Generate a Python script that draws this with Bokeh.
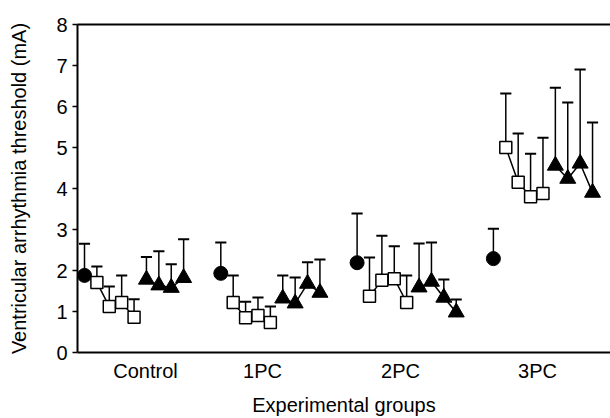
from bokeh.plotting import figure
from bokeh.models import Range1d, FixedTicker, CustomJSTickFormatter, LinearAxis
from bokeh.embed import file_html
from bokeh.resources import INLINE

# ---- data ----
groups = ["Control", "1PC", "2PC", "3PC"]
group_label_pos = [4.92, 14.37, 25.5, 36.56]

circle_mean = [1.88, 1.93, 2.19, 2.29]
circle_sd = [0.77, 0.75, 1.20, 0.73]

square_mean = [
    [1.71, 1.12, 1.22, 0.86],
    [1.22, 0.85, 0.90, 0.73],
    [1.37, 1.76, 1.80, 1.22],
    [5.00, 4.15, 3.80, 3.88],
]
square_sd = [
    [0.39, 0.49, 0.66, 0.44],
    [0.66, 0.39, 0.44, 0.39],
    [0.95, 1.09, 0.79, 0.66],
    [1.32, 1.19, 1.05, 1.36],
]

triangle_mean = [
    [1.78, 1.64, 1.58, 1.82],
    [1.32, 1.20, 1.68, 1.46],
    [1.59, 1.73, 1.34, 0.98],
    [4.56, 4.24, 4.61, 3.90],
]
triangle_sd = [
    [0.55, 0.83, 0.57, 0.94],
    [0.56, 0.63, 0.52, 0.81],
    [1.07, 0.95, 0.44, 0.31],
    [1.90, 1.86, 2.29, 1.71],
]

y_ticks = [0, 1, 2, 3, 4, 5, 6, 7, 8]

# ---- layout positions ----
GROUP_STEP = 11
cx = [g * GROUP_STEP for g in range(len(groups))]
sx = [[g * GROUP_STEP + 1 + i for i in range(4)] for g in range(len(groups))]
tx = [[g * GROUP_STEP + 5 + i for i in range(4)] for g in range(len(groups))]

FONT = "Liberation Sans"
FS = "20px"

p = figure(width=610, height=418,
           x_range=Range1d(-0.565, 42.45), y_range=Range1d(0, 8),
           output_backend="svg", toolbar_location=None,
           min_border_left=77, min_border_right=0,
           min_border_top=24, min_border_bottom=66)
p.outline_line_color = None
p.grid.visible = False
p.background_fill_color = "white"

# x axis
xa = p.xaxis[0]
xa.ticker = FixedTicker(ticks=group_label_pos)
xa.formatter = CustomJSTickFormatter(args=dict(labels=groups), code="return labels[index];")
xa.major_tick_out = 0
xa.major_tick_in = 0
xa.minor_tick_out = 0
xa.minor_tick_in = 0
xa.axis_line_width = 2
xa.major_label_standoff = 7
xa.major_label_text_font = FONT
xa.major_label_text_font_size = FS
xa.major_label_text_color = "black"
xa.axis_label = "Experimental groups"
xa.axis_label_text_font = FONT
xa.axis_label_text_font_size = FS
xa.axis_label_text_font_style = "normal"
xa.axis_label_text_color = "black"
xa.axis_label_standoff = 9

# y axis
ya = p.yaxis[0]
ya.ticker = FixedTicker(ticks=y_ticks)
ya.major_tick_out = 5
ya.major_tick_in = 0
ya.major_tick_line_width = 1.5
ya.minor_tick_out = 0
ya.minor_tick_in = 0
ya.axis_line_width = 2
ya.major_label_standoff = 5
ya.major_label_text_font = FONT
ya.major_label_text_font_size = FS
ya.major_label_text_color = "black"
ya.axis_label = "Ventricular arrhythmia threshold (mA)"
ya.axis_label_text_font = FONT
ya.axis_label_text_font_size = FS
ya.axis_label_text_font_style = "normal"
ya.axis_label_text_color = "black"
ya.axis_label_standoff = 23

# top border line
top = LinearAxis(ticker=FixedTicker(ticks=[]), axis_line_width=2,
                 major_tick_out=0, major_tick_in=0, minor_tick_out=0, minor_tick_in=0,
                 major_label_text_font_size="0px")
p.add_layout(top, "above")

# ---- error bars ----
xs_all, y0_all, y1_all = [], [], []
for g in range(len(groups)):
    xs_all.append(cx[g]); y0_all.append(circle_mean[g]); y1_all.append(circle_mean[g] + circle_sd[g])
    for i in range(4):
        xs_all.append(sx[g][i]); y0_all.append(square_mean[g][i]); y1_all.append(square_mean[g][i] + square_sd[g][i])
        xs_all.append(tx[g][i]); y0_all.append(triangle_mean[g][i]); y1_all.append(triangle_mean[g][i] + triangle_sd[g][i])

CAP = 0.45
p.segment(x0=xs_all, y0=y0_all, x1=xs_all, y1=y1_all, line_color="black", line_width=1.5)
p.segment(x0=[x - CAP for x in xs_all], y0=y1_all, x1=[x + CAP for x in xs_all], y1=y1_all,
          line_color="black", line_width=2)

# ---- connecting lines ----
p.multi_line(xs=sx, ys=square_mean, line_color="black", line_width=1.5)
p.multi_line(xs=tx, ys=triangle_mean, line_color="black", line_width=1.5)

# ---- markers ----
p.scatter(x=cx, y=circle_mean, marker="circle", size=14,
          fill_color="black", line_color="black")
p.scatter(x=[v for row in sx for v in row], y=[v for row in square_mean for v in row],
          marker="square", size=12, fill_color="white", line_color="black", line_width=1.5)
p.scatter(x=[v for row in tx for v in row], y=[v for row in triangle_mean for v in row],
          marker="triangle", size=16, fill_color="black", line_color="black")

open("out.html", "w").write(file_html(p, INLINE))
